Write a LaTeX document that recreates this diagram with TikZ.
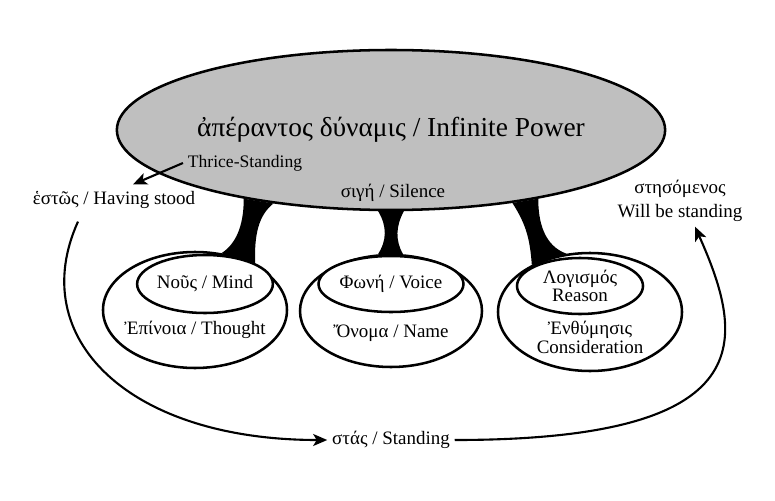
\documentclass[tikz,border=0pt]{standalone}
\usepackage{fontspec}
\setmainfont{Liberation Serif}
\usetikzlibrary{shapes.geometric, positioning, calc, backgrounds, arrows.meta}

\begin{document}
\begin{tikzpicture}[every node/.style={font=\fontsize{13.5}{16}\selectfont}, >={Stealth[length=10pt, width=8.5pt, inset=2.5pt]},
    bubble/.style={ellipse, draw, line width=1.8pt, fill=white, inner sep=0pt},
    arrow/.style={->, line width=1.5pt}]
    \useasboundingbox (-9.775,3.25) rectangle (9.6,-9.25);

    \node[bubble, fill=black!25, minimum width=12.8cm, minimum height=4cm, font=\fontsize{19.5}{24}\selectfont] (power) {ἀπέραντος δύναμις / Infinite Power};
    \node[below of=power, xshift=-3.65cm, yshift=.175cm, font=\fontsize{12.5}{15}\selectfont] (thrice) {Thrice-Standing};
    \node[below of=power, xshift=.05cm, yshift=-.575cm] (sige) {σιγή / Silence};
    \node[left of=thrice, xshift=-2.275cm, yshift=-.925cm] (estos) {ἑστῶς / Having stood};
    \node[right of=power, align=center, xshift=6.225cm, yshift=-1.775cm, font=\fontsize{13.5}{17}\selectfont] (stesomenos) {στησόμενος\\Will be standing};

    \node[bubble, below of=power, xshift=-4.9cm, yshift=-3.5cm, minimum width=4.6cm, minimum height=2.9cm] (epinoia) {};
    \node[bubble, above of=epinoia, xshift=.25cm, yshift=-.35cm, minimum width=3.1cm, minimum height=1.45cm] (nous) {Νοῦς / Mind};
    \node[below of=epinoia, yshift=.5cm] (epinoiatxt) {Ἐπίνοια / Thought};

    \node[bubble, below of=power, yshift=-3.525cm, minimum width=4.55cm, minimum height=2.8cm] (onoma) {};
    \node[bubble, above of=onoma, yshift=-.325cm, minimum width=3.15cm, minimum height=1.4cm] (phone) {Φωνή / Voice};
    \node[below of=onoma, yshift=.45cm] (onomatxt) {Ὄνομα / Name};

    \node[bubble, below of=power, xshift=4.975cm, yshift=-3.55cm, minimum width=4.6cm, minimum height=2.95cm] (enthymesis) {};
    \node[bubble, above of=enthymesis, xshift=-.25cm, yshift=-.35cm, minimum width=3.15cm, minimum height=1.4cm, align=center, font=\fontsize{13.5}{13}\selectfont] (logismos) {Λογισμός\\Reason};
    \node[below of=enthymesis, yshift=.375cm, align=center, font=\fontsize{13.5}{13.5}\selectfont] (enthymesistxt) {Ἐνθύμησις\\Consideration};

    \node[below of=onoma, yshift=-2.225cm] (stas) {στάς / Standing};

    \begin{pgfonlayer}{background}
    \fill (power.-155) .. controls +(0,-.7) and +(.35,.225) .. (epinoia.65) -- (epinoia.37) .. controls +(-.025,.75) and +(-.375,-.3) .. (power.-148) -- cycle;
    \fill (power.-99) .. controls +(.225,-.375) and +(.225,.35) .. (onoma.103) -- (onoma.78) .. controls +(-.2,.35) and +(-.2,-.375) .. (power.-81) -- cycle;
    \fill (power.-31) .. controls +(.35,-.55) and +(-.05,.65) .. (enthymesis.141) -- (enthymesis.112) .. controls +(-.55,.2) and +(0,-.6) .. (power.-25) -- cycle;
    \end{pgfonlayer}

    \draw[arrow] (thrice.west) -- ($(estos.north)+(.475,.05)$);
    \draw[arrow] ($(estos.south)+(-.9,-.2)$) .. controls +(-1.325,-2.925) and +(-4.95,0) .. (stas.west);
    \draw[arrow] (stas.east) .. controls +(7.75,0) and +(1.25,-2.8) .. ($(stesomenos.south)+(.375,0)$);
  \end{tikzpicture}
\end{document}
